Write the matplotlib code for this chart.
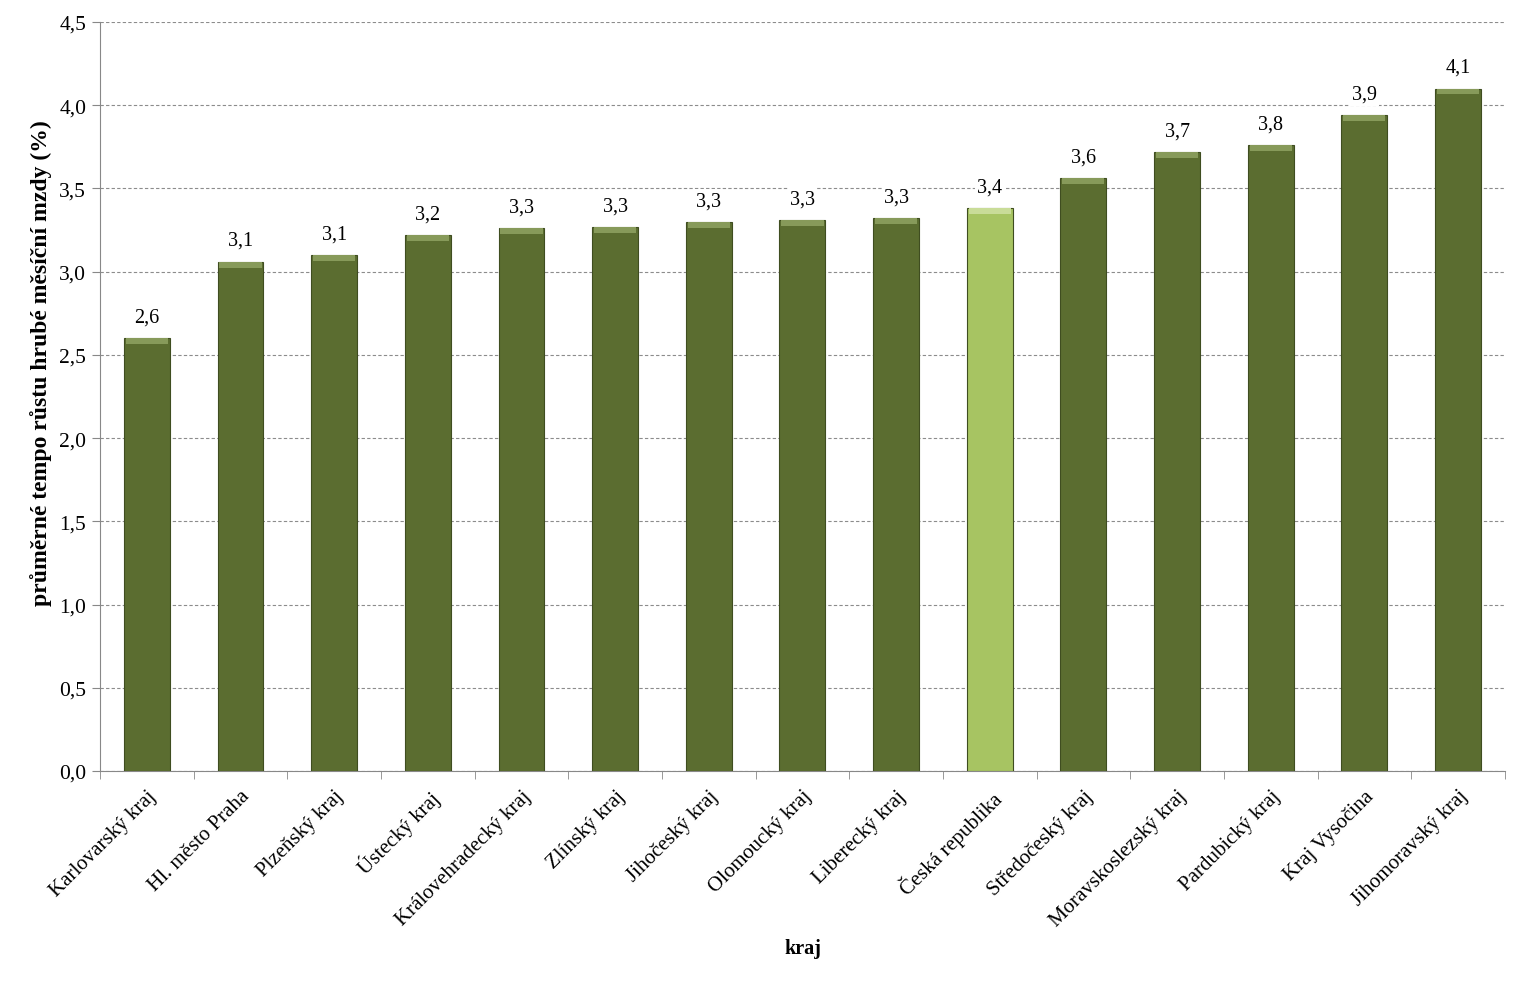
import matplotlib
matplotlib.use("Agg")
import matplotlib.pyplot as plt
import numpy as np

# regions and average growth rate of gross monthly wage (%)
regions = ["Karlovarský kraj", "Hl. město Praha", "Plzeňský kraj", "Ústecký kraj",
           "Královehradecký kraj", "Zlínský kraj", "Jihočeský kraj", "Olomoucký kraj",
           "Liberecký kraj", "Česká republika", "Středočeský kraj", "Moravskoslezský kraj",
           "Pardubický kraj", "Kraj Vysočina", "Jihomoravský kraj"]
values = [2.60, 3.06, 3.10, 3.22, 3.26, 3.27, 3.30, 3.31, 3.32, 3.38, 3.56, 3.72, 3.76, 3.94, 4.10]
highlight = "Česká republika"

plt.rcParams['font.family'] = ['Liberation Serif', 'DejaVu Serif']

fig = plt.figure(figsize=(15.27, 9.87), dpi=100)
ax = fig.add_axes([0.0655, 0.2178, 0.92, 0.7589])

x = np.arange(len(regions))
dark = "#5B6D30"
light = "#A7C462"
colors = [light if r == highlight else dark for r in regions]
tops = ["#C9DC98" if r == highlight else "#879A5A" for r in regions]

bars = ax.bar(x, values, width=0.49, color=colors, edgecolor="#3F4D20", linewidth=0.8, zorder=3)
# light bevel on the top of each bar
ax.bar(x, [0.035] * len(x), bottom=np.array(values) - 0.035, width=0.45,
       color=tops, linewidth=0, zorder=4)

for xi, v in zip(x, values):
    ax.text(xi, v + 0.07, f"{v:.1f}".replace(".", ","), ha="center", va="bottom",
            fontsize=14.5, zorder=5,
            bbox=dict(facecolor="white", edgecolor="none", pad=1.5))

ax.set_xlim(-0.5, len(regions) - 0.5)
ax.set_ylim(0, 4.5)
yt = np.arange(0, 4.51, 0.5)
ax.set_yticks(yt)
ax.set_yticklabels([f"{t:.1f}".replace(".", ",") for t in yt], fontsize=15.5)
ax.yaxis.grid(True, linestyle=(0, (3, 2)), color="#8C8C8C", linewidth=0.8, zorder=0)
ax.set_axisbelow(True)

ax.set_xticks(x)
ax.set_xticklabels(regions, rotation=45, ha="right", rotation_mode="anchor", fontsize=15)
ax.set_xticks(np.arange(-0.5, len(regions)), minor=True)
ax.tick_params(axis="x", which="major", length=0, pad=11)
ax.tick_params(axis="x", which="minor", length=6, color="#888888")
ax.tick_params(axis="y", length=6, color="#888888", pad=4)

for side in ["top", "right"]:
    ax.spines[side].set_visible(False)
for side in ["left", "bottom"]:
    ax.spines[side].set_color("#888888")

ax.set_ylabel("průměrné tempo růstu hrubé měsíční mzdy (%)", fontsize=17, fontweight="bold")
ax.yaxis.set_label_coords(-0.034, 0.546)
ax.set_xlabel("kraj", fontsize=14.5, fontweight="bold", labelpad=6)

fig.savefig("out.png", dpi=100)
